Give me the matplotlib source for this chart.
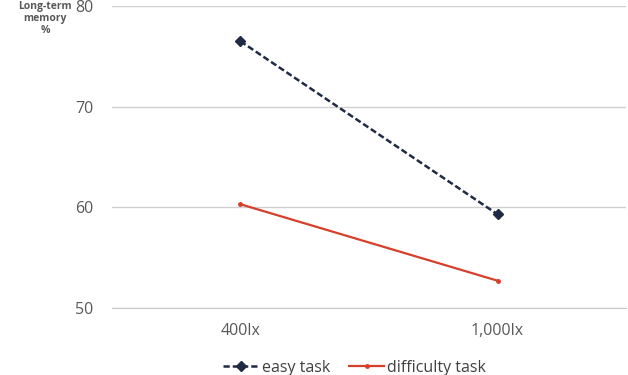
import matplotlib.pyplot as plt

categories = ['400lx', '1,000lx']
easy_task = [76.5, 59.3]
difficulty_task = [60.3, 52.7]
y_ticks = [50, 60, 70, 80]

plt.rcParams['font.family'] = ['Open Sans', 'DejaVu Sans']

fig = plt.figure(figsize=(6.28, 3.75), dpi=100)
ax = fig.add_axes([0.178, 0.179, 0.819, 0.805])

x = [0.5, 1.5]
ax.plot(x, easy_task, color='#1f2a44', linestyle=(0, (2.5, 1.2)), linewidth=1.8,
        marker='D', markersize=5, label='easy task')
ax.plot(x, difficulty_task, color='#d6402a', linewidth=1.6,
        marker='o', markersize=2.5, label='difficulty task')

ax.set_xlim(0, 2)
ax.set_ylim(50, 80)
ax.set_yticks(y_ticks)
ax.set_xticks(x)
ax.set_xticklabels(categories)
ax.grid(axis='y', color='#d0d0d0', linewidth=1)
ax.set_axisbelow(True)
for s in ['left', 'right', 'top']:
    ax.spines[s].set_visible(False)
ax.spines['bottom'].set_color('#c8c8c8')
ax.tick_params(axis='both', length=0, labelsize=11.5, colors='#595959', pad=13)
ax.tick_params(axis='x', pad=11)

fig.text(0.072, 0.997, 'Long-term\nmemory\n%', ha='center', va='top',
         fontsize=7.5, color='#595959', fontweight='bold', linespacing=1.1)

fig.legend(loc='lower center', bbox_to_anchor=(0.565, -0.04), ncol=2, frameon=False,
           fontsize=11.5, labelcolor='#404040', handlelength=2.2, handletextpad=0.2,
           columnspacing=1.2)

fig.savefig('out.png', dpi=100)
